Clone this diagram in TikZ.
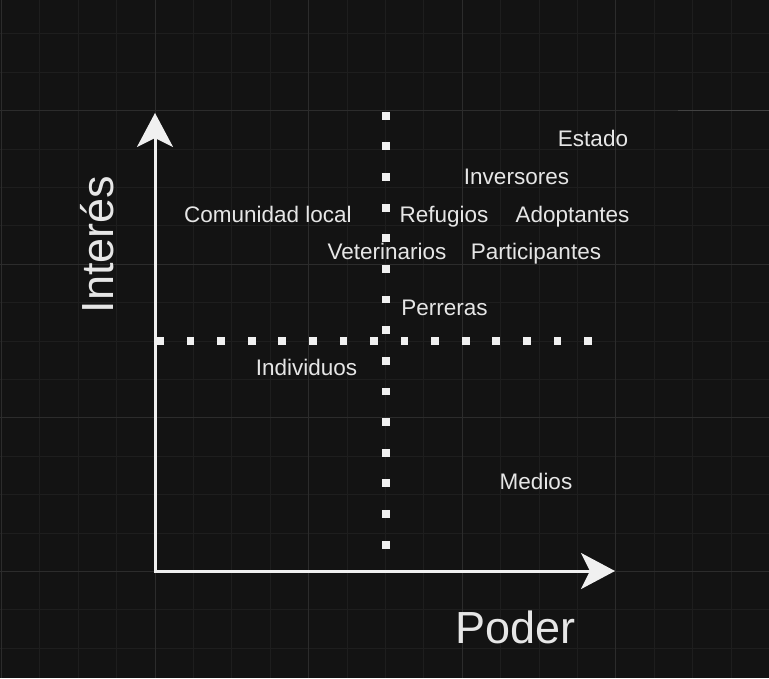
\documentclass[tikz,border=0pt]{standalone}
\usepackage{fontspec}
\setmainfont{Liberation Sans}
\usetikzlibrary{arrows.meta}
\definecolor{bgc}{HTML}{131313}
\definecolor{gridminor}{HTML}{1E1E1E}
\definecolor{gridmajor}{HTML}{2C2C2C}
\definecolor{ink}{HTML}{F0F0F0}
\definecolor{txt}{HTML}{E6E6E6}
\tikzset{
  lbl/.style={anchor=base, inner sep=0pt, text=txt, font=\fontsize{22.5}{27}\selectfont},
  biglbl/.style={anchor=base, inner sep=0pt, text=txt, font=\fontsize{45}{54}\selectfont},
  axis/.style={draw=ink, line width=3pt, line join=miter,
    {Stealth[length=34pt,width=36pt,inset=9pt]}-{Stealth[length=34pt,width=36pt,inset=9pt]}},
  dot/.style={fill=ink}
}
\begin{document}
\begin{tikzpicture}[x=1pt,y=-1pt]
\fill[bgc] (0,0) rectangle (769,678);
\useasboundingbox (0,0) rectangle (769,678);
% grid
\foreach \i in {0,...,20} {
  \draw[gridminor, line width=1pt] ({1.4+38.4*\i},0) -- ({1.4+38.4*\i},678);
}
\foreach \i in {0,...,18} {
  \draw[gridminor, line width=1pt] (0,{-4.5+38.4*\i}) -- (769,{-4.5+38.4*\i});
}
\foreach \i in {0,...,5} {
  \draw[gridmajor, line width=1pt] ({1.4+153.6*\i},0) -- ({1.4+153.6*\i},678);
}
\foreach \i in {0,...,4} {
  \draw[gridmajor, line width=1pt] (0,{110.7+153.6*(\i-1)}) -- (769,{110.7+153.6*(\i-1)});
}
\draw[color=white!20!bgc, line width=1.2pt] (678,110.7) -- (769,110.7);
% dotted dividers
\foreach \i in {0,...,14} {
  \fill[dot] ({385.6-3.9},{115.7+30.64*\i-3.9}) rectangle +(7.8,7.8);
  \fill[dot] ({160+30.57*\i-3.9},{341-3.9}) rectangle +(7.8,7.8);
}
% axes
\coordinate (ytip) at (155,113);
\coordinate (origin) at (155,571);
\coordinate (xtip) at (615,571);
\draw[axis] (ytip) -- (origin) -- (xtip);
% labels
\node[biglbl, rotate=90] (interes) at (113,244.5) {Interés};
\node[biglbl] (poder) at (515.5,643) {Poder};
\node[lbl] (estado) at (593,146) {Estado};
\node[lbl] (inversores) at (516.5,184) {Inversores};
\node[lbl] (comunidad) at (268,222) {Comunidad local};
\node[lbl] (refugios) at (444,222) {Refugios};
\node[lbl] (adoptantes) at (572.5,222) {Adoptantes};
\node[lbl] (veterinarios) at (387,259) {Veterinarios};
\node[lbl] (participantes) at (536,259) {Participantes};
\node[lbl] (perreras) at (444.5,315) {Perreras};
\node[lbl] (individuos) at (306.5,375) {Individuos};
\node[lbl] (medios) at (536,489) {Medios};
\end{tikzpicture}
\end{document}
